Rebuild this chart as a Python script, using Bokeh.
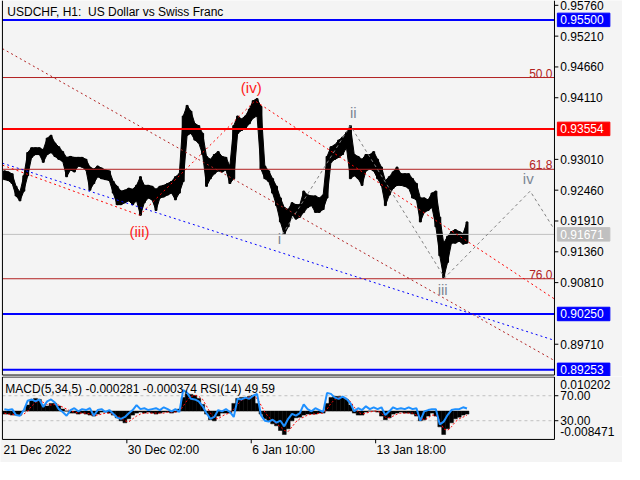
from bokeh.plotting import figure
from bokeh.layouts import column
from bokeh.models import Range1d
from bokeh.embed import file_html
from bokeh.resources import INLINE
from bokeh.core.properties import value

FONT = "Liberation Sans"

# ---------------- data (USDCHF H1, groups of 4 bars) ----------------
first_bar = 2
group_len = 4
high = [0.92804, 0.92786, 0.92752, 0.92529, 0.92425, 0.92718, 0.93131, 0.93216, 0.93216, 0.93216,
        0.93182, 0.93388, 0.93440, 0.93302, 0.93234, 0.93148, 0.93045, 0.93062, 0.93045, 0.93045,
        0.93045, 0.93011, 0.92872, 0.92837, 0.92890, 0.92855, 0.92820, 0.92804, 0.92615, 0.92529,
        0.92443, 0.92460, 0.92494, 0.92477, 0.92546, 0.92700, 0.92546, 0.92546, 0.92529, 0.92477,
        0.92529, 0.92546, 0.92580, 0.92615, 0.92700, 0.92752, 0.93783, 0.93973, 0.93869, 0.93646,
        0.93612, 0.93474, 0.93062, 0.93011, 0.93096, 0.93148, 0.93062, 0.93045, 0.92890, 0.93612,
        0.93783, 0.93732, 0.93783, 0.93904, 0.94058, 0.94093, 0.93955, 0.92890, 0.92804, 0.92666,
        0.92529, 0.92321, 0.92150, 0.92116, 0.92236, 0.92202, 0.92202, 0.92443, 0.92374, 0.92357,
        0.92357, 0.92321, 0.92374, 0.93062, 0.93234, 0.93268, 0.93354, 0.93405, 0.93491, 0.93612,
        0.93096, 0.93062, 0.93011, 0.93096, 0.93096, 0.93148, 0.93011, 0.92872, 0.92632, 0.92700,
        0.92786, 0.92872, 0.92752, 0.92752, 0.92752, 0.92666, 0.92580, 0.92321, 0.92321, 0.92288,
        0.92408, 0.92443, 0.91979, 0.91515, 0.91635, 0.91721, 0.91755, 0.91721, 0.91686, 0.91893]
low = [0.92649, 0.92632, 0.92580, 0.92357, 0.92270, 0.92443, 0.92718, 0.93045, 0.93096, 0.93096,
       0.92958, 0.93096, 0.93131, 0.93062, 0.93011, 0.92976, 0.92700, 0.92820, 0.92786, 0.92890,
       0.92872, 0.92820, 0.92460, 0.92580, 0.92700, 0.92666, 0.92649, 0.92632, 0.92408, 0.92202,
       0.92202, 0.92236, 0.92270, 0.92202, 0.92270, 0.92013, 0.92236, 0.92321, 0.92288, 0.92099,
       0.92321, 0.92340, 0.92374, 0.92408, 0.92288, 0.92408, 0.92615, 0.93440, 0.93474, 0.93354,
       0.93302, 0.93096, 0.92529, 0.92666, 0.92752, 0.92804, 0.92786, 0.92820, 0.92580, 0.92666,
       0.93474, 0.93526, 0.93560, 0.93646, 0.93749, 0.93783, 0.92837, 0.92666, 0.92615, 0.92408,
       0.92185, 0.91893, 0.91669, 0.91807, 0.92013, 0.91944, 0.91979, 0.92065, 0.92150, 0.92185,
       0.92065, 0.92065, 0.92116, 0.92321, 0.92958, 0.93011, 0.93045, 0.93096, 0.93216, 0.92666,
       0.92718, 0.92666, 0.92546, 0.92804, 0.92837, 0.92804, 0.92666, 0.92546, 0.92185, 0.92374,
       0.92494, 0.92546, 0.92546, 0.92529, 0.92494, 0.92321, 0.92288, 0.91893, 0.92065, 0.92099,
       0.92150, 0.91807, 0.91291, 0.90896, 0.91171, 0.91515, 0.91515, 0.91549, 0.91498, 0.91515]

macd_hist = [-0.0009, -0.0009, -0.0012, -0.0012, -0.0012, 0.0000, 0.0018, 0.0032, 0.0038, 0.0035,
             0.0018, 0.0015, 0.0023, 0.0023, 0.0015, 0.0006, 0.0000, -0.0006, -0.0006, -0.0009,
             -0.0006, -0.0009, -0.0012, -0.0015, -0.0009, -0.0003, -0.0003, -0.0006, -0.0012, -0.0020,
             -0.0029, -0.0035, -0.0023, -0.0012, -0.0006, -0.0003, -0.0006, -0.0003, -0.0006, -0.0009,
             -0.0006, -0.0003, -0.0003, -0.0006, -0.0003, 0.0006, 0.0041, 0.0053, 0.0050, 0.0047,
             0.0038, 0.0020, -0.0009, -0.0026, -0.0029, -0.0015, -0.0006, -0.0006, -0.0006, 0.0023,
             0.0038, 0.0041, 0.0041, 0.0044, 0.0047, 0.0023, -0.0009, -0.0023, -0.0029, -0.0038,
             -0.0044, -0.0058, -0.0070, -0.0053, -0.0029, -0.0020, -0.0018, -0.0012, -0.0009, -0.0009,
             -0.0009, -0.0006, -0.0006, 0.0023, 0.0041, 0.0044, 0.0044, 0.0041, 0.0035, 0.0018,
             -0.0006, -0.0012, -0.0012, -0.0003, 0.0000, 0.0000, -0.0003, -0.0015, -0.0026, -0.0020,
             -0.0009, -0.0006, -0.0003, -0.0006, -0.0006, -0.0009, -0.0015, -0.0029, -0.0026, -0.0015,
             -0.0006, -0.0015, -0.0047, -0.0070, -0.0053, -0.0035, -0.0023, -0.0018, -0.0012, -0.0009]
macd_signal = [-0.0006, -0.0009, -0.0009, -0.0012, -0.0012, -0.0009, 0.0000, 0.0015, 0.0026, 0.0032,
               0.0026, 0.0020, 0.0018, 0.0020, 0.0018, 0.0012, 0.0006, 0.0000, -0.0003, -0.0006,
               -0.0006, -0.0006, -0.0009, -0.0012, -0.0012, -0.0009, -0.0006, -0.0006, -0.0009, -0.0015,
               -0.0020, -0.0029, -0.0032, -0.0023, -0.0015, -0.0009, -0.0006, -0.0006, -0.0006, -0.0006,
               -0.0006, -0.0006, -0.0003, -0.0003, -0.0003, 0.0000, 0.0015, 0.0032, 0.0044, 0.0047,
               0.0044, 0.0035, 0.0015, -0.0006, -0.0020, -0.0023, -0.0015, -0.0009, -0.0006, 0.0006,
               0.0020, 0.0032, 0.0038, 0.0041, 0.0044, 0.0038, 0.0018, -0.0003, -0.0018, -0.0029,
               -0.0038, -0.0047, -0.0058, -0.0061, -0.0047, -0.0032, -0.0023, -0.0018, -0.0012, -0.0009,
               -0.0009, -0.0006, -0.0006, 0.0006, 0.0023, 0.0035, 0.0041, 0.0041, 0.0038, 0.0029,
               0.0012, -0.0003, -0.0009, -0.0006, -0.0003, 0.0000, 0.0000, -0.0006, -0.0018, -0.0020,
               -0.0015, -0.0009, -0.0006, -0.0006, -0.0006, -0.0006, -0.0012, -0.0020, -0.0026, -0.0020,
               -0.0012, -0.0012, -0.0029, -0.0053, -0.0058, -0.0047, -0.0032, -0.0023, -0.0018, -0.0012]
rsi = [48.5, 47, 48.5, 39, 38, 47, 62, 64, 61, 64,
       52, 61, 64, 59, 48.5, 44, 38, 47, 50, 45,
       48.5, 47, 50, 38, 47, 48.5, 44, 47, 41, 35,
       33, 36, 42, 47, 55, 48.5, 50, 47, 48.5, 50,
       47, 51.5, 48.5, 45, 48.5, 44, 79, 74.6, 65, 64,
       61, 53, 42, 33, 36, 47, 45, 48.5, 44, 36,
       65, 64, 67, 65, 70, 73, 39, 30, 28.5, 31.5,
       27, 30, 21, 33, 41, 38, 42, 56, 48.5, 45,
       50, 47, 44, 74.6, 73, 67, 65, 68.5, 65, 58,
       45, 50, 47, 53, 48.5, 51.5, 48.5, 51.5, 39, 45,
       51.5, 48.5, 50, 48.5, 51.5, 48.5, 50, 30, 45, 47,
       48.5, 48.5, 24, 28.5, 39, 47, 48.5, 48.5, 51.5, 49.59]

price_ticks = [0.89710, 0.90810, 0.91360, 0.91910, 0.92460, 0.93010, 0.94110, 0.94660, 0.95210, 0.95760]
blue_levels = [0.95500, 0.90250, 0.89253]
red_level = 0.93554
fib_levels = [0.94471, 0.92833, 0.90879]
fib_names = ["50.0", "61.8", "76.0"]
last_price = 0.91671
rsi_levels = [70, 30]
macd_max, macd_min = 0.010202, -0.008471

date_bars = [2, 130, 258, 386]
date_names = ["21 Dec 2022", "30 Dec 02:00", "6 Jan 10:00", "13 Jan 18:00"]

# trend lines: (bar indices, prices)
line_a_x, line_a_y = [2, 570], [0.94987, 0.89418]          # dark red dotted
line_e_x, line_e_y = [2, 570], [0.92941, 0.89779]          # blue dotted
wave_red_x = [2, 143, 263]                                  # red dotted (ii)-(iii)-(iv)
wave_red_y = [0.92907, 0.92013, 0.94076]
chan_x, chan_y = [263, 570], [0.94041, 0.90518]             # red dotted channel
ew_x = [290, 360, 457, 545, 570]                            # grey dashed projection
ew_y = [0.91669, 0.93612, 0.90896, 0.92443, 0.91755]

wave_names = ["(iii)", "(iv)", "i", "ii", "iii", "iv"]
wave_lx = [143, 258, 287, 363, 455, 543]
wave_ly = [0.91721, 0.94299, 0.91600, 0.93852, 0.90690, 0.92666]
wave_col = ["#ff1a1a", "#ff1a1a", "#7b8794", "#7b8794", "#7b8794", "#7b8794"]

macd_title = "MACD(5,34,5) -0.000281 -0.000374 RSI(14) 49.59"
chart_title = "USDCHF, H1:\u00a0 US Dollar vs Swiss Franc"

# ---------------- geometry (bar units / price units) ----------------
W = 622
X_END = 640                 # bar index at the right edge of the canvas
LEFT, RIGHT = 2, 570        # chart frame edges (bars)
P_TOP, P_BOT = 0.95846, 0.89134   # main canvas price extent
P_FRAME_BOT = 0.89160
PX = 0.00017188             # price per original pixel
TICK = 4
BG = "#f4f4f4"

xc = [first_bar + group_len * i + group_len / 2 for i in range(len(high))]
x0 = [first_bar + group_len * i for i in range(len(high))]
x1 = [v + group_len for v in x0]


def base(fig):
    fig.background_fill_color = BG
    fig.border_fill_color = BG
    fig.outline_line_color = None
    fig.grid.visible = False
    return fig


p = base(figure(width=W, height=376, x_range=Range1d(0, X_END), y_range=Range1d(P_BOT, P_TOP),
                output_backend="svg", toolbar_location=None, min_border=0,
                x_axis_location=None, y_axis_location=None))

# price band (drawn first, objects on top as in the terminal)
p.quad(left=[v + 1 for v in x0], right=[v - 1 for v in x1], top=high, bottom=low,
       fill_color="black", line_color="black", line_width=1)
p.patch(x=xc + xc[::-1], y=high + low[::-1], fill_color="black", line_color="black",
        line_width=1, line_join="round")

# horizontal levels
p.segment(x0=LEFT, x1=RIGHT, y0=fib_levels, y1=fib_levels, line_color="#b22222", line_width=1)
p.segment(x0=LEFT, x1=RIGHT, y0=[last_price], y1=[last_price], line_color="#c0c0c0", line_width=1)
p.segment(x0=LEFT, x1=RIGHT, y0=blue_levels, y1=blue_levels, line_color="#0000ff", line_width=2)
p.segment(x0=LEFT, x1=RIGHT, y0=[red_level], y1=[red_level], line_color="#ff0000", line_width=2)

# trend lines
p.line(line_a_x, line_a_y, line_color="#b22222", line_width=1, line_dash="2 3")
p.line(line_e_x, line_e_y, line_color="#0000ff", line_width=1, line_dash="2 3")
p.line(wave_red_x, wave_red_y, line_color="#ff0000", line_width=1, line_dash="2 3")
p.line(chan_x, chan_y, line_color="#ff0000", line_width=1, line_dash="2 3")
p.line(ew_x, ew_y, line_color="#808080", line_width=1, line_dash="3 3")

# frame
p.line([LEFT, LEFT, RIGHT, RIGHT], [P_TOP, P_FRAME_BOT, P_FRAME_BOT, P_TOP], line_color="black", line_width=1)

# price axis (ticks + labels) on the right
p.segment(x0=RIGHT, x1=RIGHT + TICK, y0=price_ticks, y1=price_ticks, line_color="black", line_width=1)
p.text(x=RIGHT + 6, y=price_ticks, text=["%.5f" % t for t in price_ticks], text_align="left",
       text_baseline="middle", text_color="black", text_font=value(FONT), text_font_size="12px")

# price tags
tag_levels = [0.95500, red_level, last_price, 0.90250, 0.89253]
tag_colors = ["#0000ff", "#ff0000", "#c0c0c0", "#0000ff", "#0000ff"]
p.quad(left=RIGHT + 3, right=RIGHT + 57, top=[v + 7 * PX for v in tag_levels],
       bottom=[v - 7 * PX for v in tag_levels], fill_color=tag_colors, line_color=tag_colors)
p.text(x=RIGHT + 6, y=tag_levels, text=["%.5f" % v for v in tag_levels], text_align="left",
       text_baseline="middle", text_color="white", text_font=value(FONT), text_font_size="12px")

# fib labels
p.text(x=[RIGHT - 2] * 3, y=fib_levels, text=fib_names, text_align="right", text_baseline="bottom",
       text_color="#b22222", text_font=value(FONT), text_font_size="12px")
# wave labels
p.text(x=wave_lx, y=wave_ly, text=wave_names, text_align="center", text_baseline="middle",
       text_color=wave_col, text_font=value(FONT), text_font_size="15px")
# title
p.text(x=[7], y=[P_TOP - 12 * PX], text=[chart_title], text_align="left", text_baseline="middle",
       text_color="black", text_font=value(FONT), text_font_size="12px")

# ---------------- indicator panel ----------------
RSI_PX = 0.65     # original pixels per RSI unit
q = base(figure(width=W, height=86, x_range=p.x_range, y_range=Range1d(-36.9, 100.77),
                output_backend="svg", toolbar_location=None, min_border=0,
                x_axis_location=None, y_axis_location=None))
q.extra_y_ranges = {"macd": Range1d(-0.015366, 0.010346)}

q.segment(x0=LEFT, x1=RIGHT, y0=rsi_levels, y1=rsi_levels, line_color="#c0c0c0", line_width=1,
          line_dash="3 3")
q.quad(left=x0, right=x1, top=macd_hist, bottom=0, y_range_name="macd",
       fill_color="black", line_color="black", line_width=0.5)
q.line(xc, macd_signal, y_range_name="macd", line_color="#ff0000", line_width=1, line_dash="2 2")
q.line(xc, rsi, line_color="#1e90ff", line_width=2)

# frame
q.line([LEFT, LEFT, RIGHT, RIGHT, LEFT], [100, 0, 0, 100, 100], line_color="black", line_width=1)
# right scale
q.segment(x0=RIGHT, x1=RIGHT + TICK, y0=rsi_levels, y1=rsi_levels, line_color="black")
q.text(x=RIGHT + 6, y=rsi_levels, text=["%.2f" % v for v in rsi_levels], text_align="left",
       text_baseline="middle", text_color="black", text_font=value(FONT), text_font_size="12px")
q.text(x=RIGHT + 6, y=[100 - 8 / RSI_PX, 8 / RSI_PX], text=["%.6f" % macd_max, "%.6f" % macd_min],
       text_align="left", text_baseline="middle", text_color="black", text_font=value(FONT),
       text_font_size="12px")
# time scale
q.segment(x0=date_bars[1:], x1=date_bars[1:], y0=0, y1=-TICK / RSI_PX, line_color="black")
q.text(x=[b + 1 for b in date_bars], y=[-11 / RSI_PX] * len(date_bars), text=date_names,
       text_align="left", text_baseline="middle", text_color="black", text_font=value(FONT),
       text_font_size="12px")
q.text(x=[5], y=[100 - 12 / RSI_PX], text=[macd_title], text_align="left", text_baseline="middle",
       text_color="black", text_font=value(FONT), text_font_size="12px")

layout = column(p, q, spacing=0)
open("out.html", "w").write(file_html(layout, INLINE))
